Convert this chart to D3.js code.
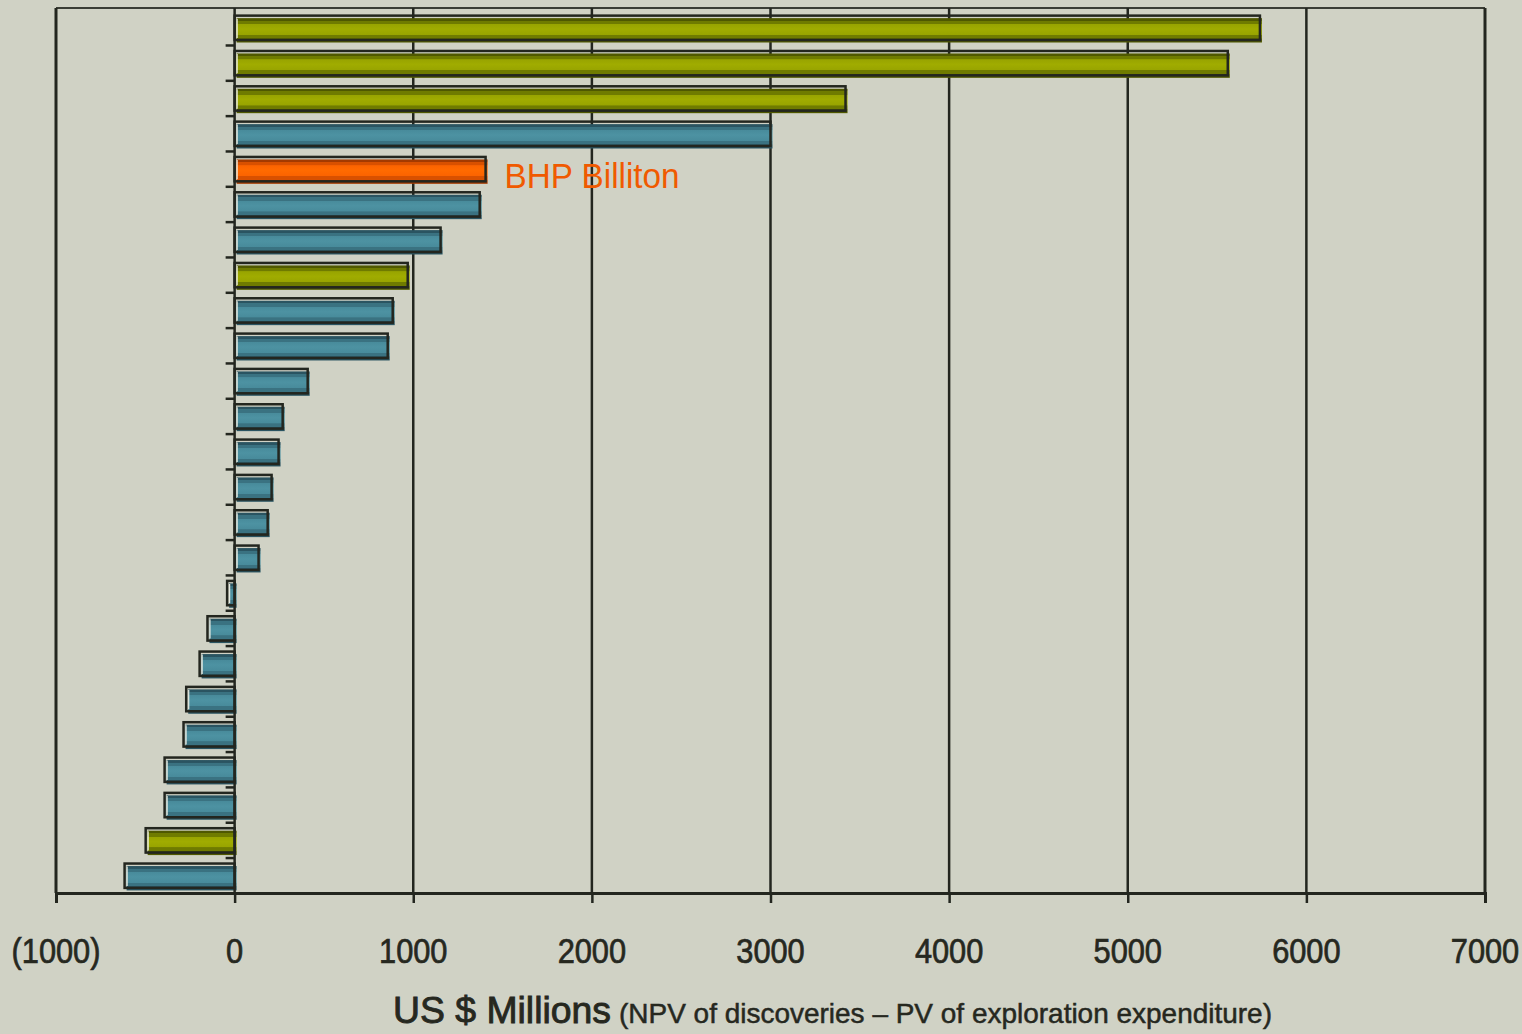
<!DOCTYPE html>
<html>
<head>
<meta charset="utf-8">
<script src="https://cdn.jsdelivr.net/npm/d3@7/dist/d3.min.js"></script>
<style>
  html, body { margin: 0; padding: 0; background: #d0d2c5; }
  svg { display: block; }
</style>
</head>
<body>
<script>
// ---- data ----
const companies = ["C1","C2","C3","C4","BHP Billiton","C6","C7","C8","C9","C10","C11","C12","C13","C14","C15","C16","C17","C18","C19","C20","C21","C22","C23","C24","C25"];
const values = [5740, 5560, 3420, 3000, 1405, 1372, 1153, 969, 885, 857, 409, 269, 246, 207, 185, 134, -42, -152, -196, -271, -286, -392, -392, -498, -616];
const groups = ["green","green","green","blue","orange","blue","blue","green","blue","blue","blue","blue","blue","blue","blue","blue","blue","blue","blue","blue","blue","blue","blue","green","blue"];
const xTicks = [-1000, 0, 1000, 2000, 3000, 4000, 5000, 6000, 7000];
const xTickLabels = ["(1000)", "0", "1000", "2000", "3000", "4000", "5000", "6000", "7000"];
const highlightLabel = "BHP Billiton";
const axisTitle = "US $ Millions";
const axisSubtitle = "(NPV of discoveries \u2013 PV of exploration expenditure)";

(function () {
const W = 1522, H = 1034;
const bg = "#d0d2c5", ink = "#23261f", textInk = "#26281f";
// dark, mid, light, centre
const palette = {
  green:  ["#4f5800", "#6f7b00", "#98a400", "#a0ac00"],
  blue:   ["#2a5461", "#3a7281", "#488b9b", "#4d92a2"],
  orange: ["#a33a00", "#d85000", "#fb6300", "#ff6a00"]
};

const svg = d3.select("body").append("svg").attr("width", W).attr("height", H);
svg.append("rect").attr("width", W).attr("height", H).attr("fill", bg);

const defs = svg.append("defs");
Object.entries(palette).forEach(([k, c]) => {
  const g = defs.append("linearGradient").attr("id", "g-" + k)
    .attr("x1", 0).attr("y1", 0).attr("x2", 0).attr("y2", 1);
  const stops = [[0, c[0]], [0.1, c[0]], [0.11, c[1]], [0.24, c[1]], [0.25, c[2]], [0.45, c[3]], [0.68, c[2]], [0.69, c[1]], [0.83, c[1]], [0.84, c[0]], [1, c[0]]];
  stops.forEach(([o, col]) => g.append("stop").attr("offset", o).attr("stop-color", col));
});

const pl = 56, pr = 1485, pt = 8, pb = 893;
const x = d3.scaleLinear().domain([-1000, 7000]).range([pl, pr]);
const y = d3.scaleBand().domain(d3.range(values.length)).range([pt, pb]).paddingInner(0.31).paddingOuter(0.18).align(0.6);

// frame
svg.append("line").attr("x1", pl).attr("x2", pr).attr("y1", pt).attr("y2", pt)
  .attr("stroke", "#3a3d35").attr("stroke-width", 2);
svg.append("line").attr("x1", pl).attr("x2", pl).attr("y1", pt).attr("y2", pb)
  .attr("stroke", ink).attr("stroke-width", 3);
svg.append("line").attr("x1", pr).attr("x2", pr).attr("y1", pt).attr("y2", pb)
  .attr("stroke", ink).attr("stroke-width", 3);

// vertical gridlines
svg.append("g").selectAll("line").data(xTicks.filter(d => d !== -1000 && d !== 7000 && d !== 0)).join("line")
  .attr("x1", d => x(d)).attr("x2", d => x(d)).attr("y1", pt).attr("y2", pb)
  .attr("stroke", ink).attr("stroke-width", 2.5);

// x axis
const xAxis = svg.append("g").attr("transform", `translate(0,${pb})`)
  .call(d3.axisBottom(x).tickValues(xTicks).tickSize(10).tickFormat(""));
xAxis.select(".domain").attr("stroke", ink).attr("stroke-width", 3);
xAxis.selectAll(".tick line").attr("stroke", ink).attr("stroke-width", 2.5);

// tick labels (condensed)
svg.append("g").selectAll("text").data(xTicks).join("text")
  .attr("transform", d => `translate(${x(d)},963) scale(0.88,1)`)
  .attr("text-anchor", "middle")
  .attr("font-family", "Liberation Sans, Arial, sans-serif")
  .attr("font-size", 35)
  .attr("fill", textInk).attr("stroke", textInk).attr("stroke-width", 0.7)
  .text((d, i) => xTickLabels[i]);

// bars
const bh = y.bandwidth();
const bars = svg.append("g");
values.forEach((v, i) => {
  const x0 = x(Math.min(0, v)), x1 = x(Math.max(0, v));
  const yy = y(i);
  const pal = palette[groups[i]];
  bars.append("rect").attr("x", x0 + 2).attr("y", yy + 2.5).attr("width", x1 - x0).attr("height", bh)
    .attr("fill", `url(#g-${groups[i]})`);
  bars.append("line").attr("x1", x0 + 2.5).attr("x2", x0 + 2.5).attr("y1", yy + 3).attr("y2", yy + bh - 2)
    .attr("stroke", "#eceee4").attr("stroke-width", 1.2);
  bars.append("rect").attr("x", x0).attr("y", yy).attr("width", x1 - x0).attr("height", bh)
    .attr("fill", "none").attr("stroke", ink).attr("stroke-width", 2.5);
});

// y axis at zero
svg.append("line").attr("x1", x(0)).attr("x2", x(0)).attr("y1", pt).attr("y2", pb)
  .attr("stroke", ink).attr("stroke-width", 2.5);
const yTickPos = d3.range(values.length - 1).map(i => (y(i) + bh + y(i + 1)) / 2);
svg.append("g").selectAll("line").data(yTickPos).join("line")
  .attr("x1", x(0) - 9).attr("x2", x(0)).attr("y1", d => d).attr("y2", d => d)
  .attr("stroke", ink).attr("stroke-width", 2.5);

// BHP label
const bhpIdx = companies.indexOf(highlightLabel);
svg.append("text")
  .attr("x", x(values[bhpIdx]) + 19).attr("y", y(bhpIdx) + bh / 2 + 19)
  .attr("font-family", "Liberation Sans, Arial, sans-serif")
  .attr("font-size", 35).attr("fill", "#f05a00")
  .attr("textLength", 175).attr("lengthAdjust", "spacingAndGlyphs")
  .text(highlightLabel);

// axis title
svg.append("text").attr("x", 393).attr("y", 1023)
  .attr("font-family", "Liberation Sans, Arial, sans-serif")
  .attr("font-size", 37).attr("fill", textInk).attr("stroke", textInk).attr("stroke-width", 0.9)
  .attr("textLength", 218).attr("lengthAdjust", "spacingAndGlyphs")
  .text(axisTitle);
svg.append("text").attr("x", 619).attr("y", 1023)
  .attr("font-family", "Liberation Sans, Arial, sans-serif")
  .attr("font-size", 28).attr("fill", textInk).attr("stroke", textInk).attr("stroke-width", 0.5)
  .attr("textLength", 653).attr("lengthAdjust", "spacingAndGlyphs")
  .text(axisSubtitle);
})();
</script>
</body>
</html>
